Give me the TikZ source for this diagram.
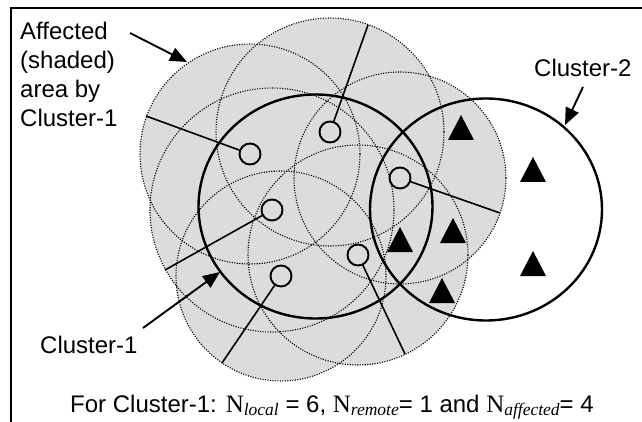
\documentclass[tikz,border=0pt]{standalone}
\usepackage{fontspec}
\setmainfont{Liberation Sans}
\newfontfamily\tnr{Liberation Serif}
\usetikzlibrary{arrows.meta}
\definecolor{shadegray}{RGB}{220,220,220}
% serif N with an italic serif subscript
\newcommand{\Nsub}[1]{{\tnr\fontsize{25}{29}\selectfont N\raisebox{-3.5pt}{\fontsize{17.5}{17.5}\selectfont\itshape #1}}}
\tikzset{
  rangering/.style={draw=black, line width=1.1pt, dash pattern=on 1.1pt off 1.4pt},
  clusterring/.style={draw=black, line width=2.4pt},
  sensor/.style={circle, draw=black, line width=1.9pt, minimum size=21pt, inner sep=0pt},
  radline/.style={draw=black, line width=1.6pt},
  pointerarrow/.style={draw=black, line width=1.9pt, -{Triangle[length=17pt, width=14pt]}},
  txt/.style={font=\fontsize{24}{29}\selectfont, inner sep=0pt},
  trimark/.pic={\fill[black] (0,-12.5) -- (13,12.5) -- (-13,12.5) -- cycle;}
}
\begin{document}
\begin{tikzpicture}[x=1pt, y=-1pt]
\useasboundingbox (0,0) rectangle (642,422);

% sensor positions, range radii and the ends of the radius lines
\coordinate (p1) at (250,154);  \coordinate (e1) at (146,116);  \def\rA{110}
\coordinate (p2) at (330,132);  \coordinate (e2) at (368,25);   \def\rB{114}
\coordinate (p3) at (272,210);  \coordinate (e3) at (165,270);  \def\rC{122}
\coordinate (p4) at (281,276);  \coordinate (e4) at (222,363);  \def\rD{105}
\coordinate (p5) at (358,255);  \coordinate (e5) at (405,354);  \def\rE{110}
\coordinate (p6) at (400,178);  \coordinate (e6) at (500,213);  \def\rF{106}

% shaded coverage of the cluster-1 sensors
\foreach \i/\r in {1/\rA,2/\rB,3/\rC,4/\rD,5/\rE,6/\rF}
  \fill[shadegray] (p\i) circle[radius=\r];
\foreach \i/\r in {1/\rA,2/\rB,3/\rC,4/\rD,5/\rE,6/\rF}
  \draw[rangering] (p\i) circle[radius=\r];

% cluster boundaries
\coordinate (c1) at (315.5,206.5);
\coordinate (c2) at (486,209.5);
\draw[clusterring] (c1) ellipse[x radius=117, y radius=112];
\draw[clusterring] (c2) ellipse[x radius=116, y radius=111];

% cluster-1 sensors with their range radii
\foreach \i in {1,...,6} {
  \node[sensor] (n\i) at (p\i) {};
  \draw[radline] (n\i) -- (e\i);
}

% cluster-2 sensors
\pic at (461,127.5) {trimark};
\pic at (533,169.5) {trimark};
\pic at (453,230.5) {trimark};
\pic at (400,239.5) {trimark};
\pic at (442,290.5) {trimark};
\pic at (533,263.5) {trimark};

% frame
\draw[line width=2pt] (11,422) -- (11,8) -- (642,8);

% labels
\node[txt, align=left, anchor=north west] (lshade) at (20,22)
  {Affected\\(shaded)\\area by\\Cluster-1};
\node[txt, anchor=base west] (lc2) at (534,77) {Cluster-2};
\node[txt, anchor=base west] (lc1) at (40,353) {Cluster-1};
\node[txt, anchor=base west] (lsum) at (70,412)
  {For Cluster-1: \Nsub{local} = 6, \Nsub{remote}= 1 and \Nsub{affected}= 4};

% pointers
\coordinate (a1s) at (130,33);  \coordinate (a1t) at (187,62);
\coordinate (a2s) at (583,87);  \coordinate (a2t) at (565,125);
\coordinate (a3s) at (143,328); \coordinate (a3t) at (220,272);
\draw[pointerarrow] (a1s) -- (a1t);
\draw[pointerarrow] (a2s) -- (a2t);
\draw[pointerarrow] (a3s) -- (a3t);
\end{tikzpicture}
\end{document}
